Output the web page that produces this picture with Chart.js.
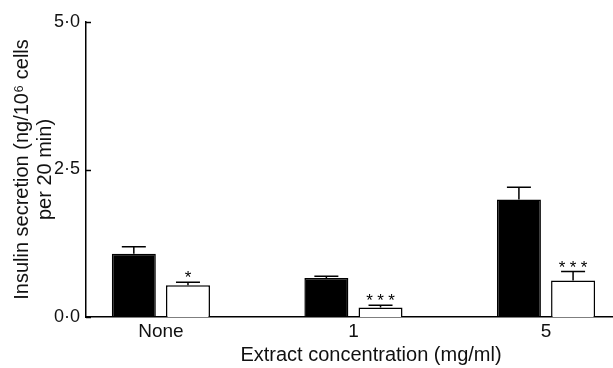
<!DOCTYPE html>
<html>
<head>
<meta charset="utf-8">
<script src="https://cdn.jsdelivr.net/npm/chart.js@4/dist/chart.umd.min.js"></script>
<style>
  html, body { margin:0; padding:0; background:#fff; }
  #wrap { width:613px; height:368px; position:relative; }
</style>
</head>
<body>
<div id="wrap"><canvas id="chart"></canvas></div>
<script>
/* ---------- Data ---------- */
const categories   = ['None', '1', '5'];
const darkValues   = [1.07, 0.66, 1.99];
const darkErrors   = [0.12, 0.03, 0.21];
const lightValues  = [0.54, 0.16, 0.62];
const lightErrors  = [0.05, 0.04, 0.15];
const lightSig     = ['*', '***', '***'];
const yTicks       = [0, 2.5, 5];

const yTitle = ['Insulin secretion (ng/10\u2076 cells', 'per 20 min)'];
const xTitle = 'Extract concentration (mg/ml)';

const FONT = '"Liberation Sans", Arial, Helvetica, sans-serif';
Chart.defaults.font.family = FONT;
Chart.defaults.font.size = 19;
Chart.defaults.color = '#111';

/* ---------- Error bars, significance stars, inward ticks, x title ---------- */
const errorSets = [darkErrors, lightErrors];

const decorations = {
  id:'decorations',
  afterDatasetsDraw(chart){
    const ctx = chart.ctx;
    const y = chart.scales.y;
    ctx.save();
    ctx.strokeStyle = '#000';
    ctx.fillStyle = '#000';
    ctx.lineWidth = 1.5;

    chart.data.datasets.forEach((ds, di)=>{
      const meta = chart.getDatasetMeta(di);
      meta.data.forEach((bar, i)=>{
        const v = ds.data[i].y;
        const top = y.getPixelForValue(v + errorSets[di][i]);
        ctx.beginPath();
        ctx.moveTo(bar.x, bar.y);
        ctx.lineTo(bar.x, top);
        ctx.moveTo(bar.x - 12, top);
        ctx.lineTo(bar.x + 12, top);
        ctx.stroke();

        if(di === 1 && lightSig[i]){
          ctx.font = '17px ' + FONT;
          ctx.textAlign = 'center';
          ctx.textBaseline = 'alphabetic';
          const n = lightSig[i].length;
          for(let k=0;k<n;k++){
            ctx.fillText('*', bar.x + (k-(n-1)/2)*11, top + 1);
          }
        }
      });
    });

    // y ticks point inward
    yTicks.forEach(t=>{
      const py = Math.round(y.getPixelForValue(t)) + 0.5;
      ctx.beginPath();
      ctx.moveTo(chart.chartArea.left, py);
      ctx.lineTo(chart.chartArea.left + 5, py);
      ctx.stroke();
    });

    // x axis title, sits right of the plot centre in the original
    ctx.font = '20px ' + FONT;
    ctx.fillStyle = '#111';
    ctx.textAlign = 'center';
    ctx.textBaseline = 'middle';
    ctx.fillText(xTitle, 371, 355);
    ctx.restore();
  }
};

const toPoints = arr => arr.map((v,i)=>({x:i, y:v}));

new Chart(document.getElementById('chart'), {
  type:'bar',
  data:{
    datasets:[
      { label:'dark',  data:toPoints(darkValues),  backgroundColor:'#000', borderColor:'#000', borderWidth:1.5 },
      { label:'light', data:toPoints(lightValues), backgroundColor:'#fff', borderColor:'#000', borderWidth:1.5 }
    ]
  },
  options:{
    responsive:true,
    maintainAspectRatio:false,
    animation:false,
    layout:{ padding:{ top:22, right:0, bottom:0, left:0 } },
    categoryPercentage:0.5625,
    barPercentage:0.8125,
    plugins:{ legend:{display:false}, tooltip:{enabled:false} },
    scales:{
      x:{
        type:'linear',
        offset:false,
        min:-0.389, max:2.348,
        grid:{ display:false, drawTicks:false, offset:false },
        border:{ display:true, color:'#000', width:1.5 },
        afterBuildTicks: s => { s.ticks = categories.map((c,i)=>({value:i})); },
        afterFit: s => { s.height = 51; },
        ticks:{ padding:3, maxRotation:0, autoSkip:false, color:'#111',
                callback: v => categories[v] }
      },
      y:{
        min:0, max:5,
        grid:{ display:false, drawTicks:false },
        border:{ display:true, color:'#000', width:1.5 },
        afterBuildTicks: s => { s.ticks = yTicks.map(v=>({value:v})); },
        afterFit: s => { s.width = 86; },
        ticks:{ padding:6, color:'#111', font:{size:18},
                callback: v => v.toFixed(1).replace('.', '\u00b7') },
        title:{ display:true, text:yTitle, padding:{top:11, bottom:0},
                font:{size:20, lineHeight:1.15}, color:'#111' }
      }
    }
  },
  plugins:[decorations]
});
</script>
</body>
</html>
